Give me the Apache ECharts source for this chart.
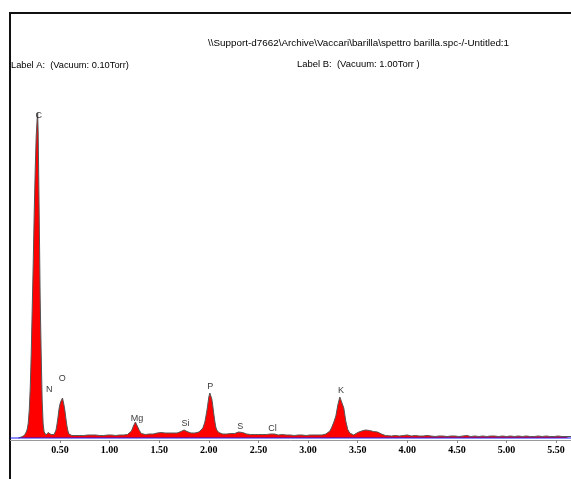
<!DOCTYPE html>
<html>
<head>
<meta charset="utf-8">
<script src="https://cdn.jsdelivr.net/npm/echarts@6/dist/echarts.min.js"></script>
<style>
  html, body { margin: 0; padding: 0; background: #fff; }
  #chart { width: 571px; height: 479px; }
</style>
</head>
<body>
<div id="chart"></div>
<script>
// EDS spectrum, Label A: [energy keV, counts]
const spectrumA = [
  [0.08,0],[0.09,0.5],[0.10,1],[0.11,1],[0.12,1.5],[0.13,2],[0.14,2.5],[0.15,4],[0.16,6],[0.17,9],
  [0.18,15],[0.19,28],[0.20,50],[0.21,85],[0.22,130],[0.23,175],[0.24,225],[0.25,268],[0.26,302],[0.27,320],
  [0.275,325],[0.28,305],[0.29,225],[0.30,140],[0.31,85],[0.32,38],[0.33,14],[0.34,6],[0.35,4],[0.36,3],
  [0.37,4],[0.38,5.5],[0.39,6],[0.40,5],[0.41,3.5],[0.42,3],[0.43,3],[0.44,3.5],[0.45,5],[0.46,8],
  [0.47,14],[0.48,21],[0.49,29],[0.50,34],[0.51,37],[0.52,39],[0.525,40],[0.53,38],[0.54,33],[0.55,27],
  [0.56,19],[0.57,12],[0.58,7],[0.59,4],[0.60,3],
  [0.62,2.5],[0.64,2],[0.66,2.5],[0.68,2],[0.70,2.5],[0.72,2],[0.74,2.5],[0.76,2.5],[0.78,3],[0.80,2.5],
  [0.82,3],[0.84,2.5],[0.86,3],[0.88,2.5],[0.90,2.5],[0.92,3],[0.94,2.5],[0.96,3],[0.98,3],[1.00,2.5],
  [1.02,3],[1.04,3],[1.06,2.5],[1.08,3],[1.10,3],[1.12,3],[1.14,3],[1.16,3.5],[1.18,3.5],[1.20,4.5],
  [1.22,7],[1.24,12],[1.26,16],[1.27,16],[1.28,14],[1.30,7.5],[1.32,4.5],[1.34,3.5],[1.36,3.5],[1.38,3.5],
  [1.40,4],[1.42,3.5],[1.44,4],[1.46,4.5],[1.48,5],[1.50,5.5],[1.52,5.5],[1.54,5],[1.56,5],[1.58,4.5],
  [1.60,5],[1.62,4.5],[1.64,5],[1.66,5],[1.68,5],[1.70,5.5],[1.72,6.5],[1.74,8],[1.75,8],[1.76,7.5],
  [1.78,6.5],[1.80,5.5],[1.82,5],[1.84,5],[1.86,5],[1.88,5.5],[1.90,6],[1.92,7],[1.94,10],[1.96,16],
  [1.98,27],[1.99,34],[2.00,41],[2.01,45],[2.02,44],[2.03,39],[2.04,32],[2.05,24],[2.06,17],[2.07,11],
  [2.08,8],[2.10,5.5],[2.12,4.5],[2.14,4],[2.16,4.5],[2.18,4],[2.20,4],[2.22,4.5],[2.24,4],[2.26,4.5],
  [2.28,5],[2.30,6],[2.32,6.5],[2.34,5.5],[2.36,4.5],[2.38,4],[2.40,4],[2.42,3.5],[2.44,4],[2.46,3.5],
  [2.48,3.5],[2.50,3.5],[2.52,3],[2.54,3.5],[2.56,3],[2.58,3.5],[2.60,3.5],[2.62,4],[2.64,4.5],[2.66,4],
  [2.68,3.5],[2.70,3],[2.72,3],[2.74,3.5],[2.76,3],[2.78,3],[2.80,3],[2.82,3],[2.84,3],[2.86,2.5],
  [2.88,3],[2.90,3],[2.92,2.5],[2.94,3],[2.96,3],[2.98,2.5],[3.00,3],[3.02,3],[3.04,2.5],[3.06,3],
  [3.08,3],[3.10,3],[3.12,3],[3.14,3],[3.16,3.5],[3.18,4],[3.20,5],[3.22,7],[3.24,11],[3.26,16],
  [3.28,22],[3.30,33],[3.32,41],[3.33,42],[3.34,40],[3.36,30],[3.38,17],[3.40,8.5],[3.42,5],[3.44,3.5],
  [3.46,3],[3.48,4],[3.50,5.5],[3.52,6.5],[3.54,7],[3.56,7.5],[3.58,8],[3.60,8],[3.62,7.5],[3.64,7],
  [3.66,6.5],[3.68,6.5],[3.70,6],[3.72,5],[3.74,4],[3.76,3],[3.78,2.5],
  [3.80,2.5],[3.84,2],[3.88,2.5],[3.92,2],[3.96,2.5],[4.00,3],[4.04,2],[4.08,2.5],[4.12,2],[4.16,2],
  [4.20,2.5],[4.24,2],[4.28,1.5],[4.32,2],[4.36,2],[4.40,1.5],[4.44,2],[4.48,2],[4.52,1.5],[4.56,2],
  [4.60,2.5],[4.64,1.5],[4.68,2],[4.72,1.5],[4.76,2],[4.80,1.5],[4.84,2],[4.88,2],[4.92,1.5],[4.96,2],
  [5.00,1.5],[5.04,2],[5.08,1.5],[5.12,2],[5.16,1.5],[5.20,2],[5.24,1.5],[5.28,1.5],[5.32,2],[5.36,1.5],
  [5.40,2],[5.44,1.5],[5.48,1.5],[5.52,2],[5.56,1.5],[5.60,1.5],[5.65,1.5]
];

// Zero baseline of the spectrum
const baseline = [[0, 0], [5.65, 0]];

// Peak identification markers
const peakElements   = ['C', 'N', 'O', 'Mg', 'Si', 'P', 'S', 'Cl', 'K'];
const peakLabelKeV   = [0.285, 0.391, 0.522, 1.276, 1.765, 2.015, 2.317, 2.642, 3.331];
const peakLabelLevel = [322, 48, 59, 19.5, 14, 51.5, 11.5, 9, 47.3];

// Energy axis ticks (keV)
const tickValues = [0.5, 1.0, 1.5, 2.0, 2.5, 3.0, 3.5, 4.0, 4.5, 5.0, 5.5];

const headerPath = '\\\\Support-d7662\\Archive\\Vaccari\\barilla\\spettro barilla.spc-/-Untitled:1';
const labelA = 'Label A:  (Vacuum: 0.10Torr)';
const labelB = 'Label B:  (Vacuum: 1.00Torr )';

const textFont = '9px "Liberation Sans", Arial, sans-serif';

const chart = echarts.init(document.getElementById('chart'), null, { renderer: 'canvas' });

chart.setOption({
  animation: false,
  backgroundColor: '#ffffff',
  grid: { left: 10.4, right: 0, top: 108, bottom: 39 },
  xAxis: {
    type: 'value',
    min: 0,
    max: 5.65,
    axisLine: { show: true, onZero: false, lineStyle: { color: '#9a9a9a', width: 1 } },
    axisTick: { show: true, customValues: tickValues, length: 3, lineStyle: { color: '#888' } },
    axisLabel: {
      customValues: tickValues,
      formatter: v => v.toFixed(2),
      fontFamily: '"Liberation Serif", "Times New Roman", serif',
      fontWeight: 'bold',
      fontSize: 10,
      color: '#000',
      margin: 5
    },
    splitLine: { show: false }
  },
  yAxis: { type: 'value', min: -2, max: 330, show: false },
  series: [
    {
      name: 'Label A',
      type: 'line',
      data: spectrumA,
      symbol: 'none',
      smooth: false,
      lineStyle: { color: '#555555', width: 1 },
      areaStyle: { color: '#ff0000', opacity: 1 },
      z: 2
    },
    {
      name: 'baseline',
      type: 'line',
      data: baseline,
      symbol: 'none',
      lineStyle: { color: '#1a1aff', width: 1 },
      z: 3
    },
    {
      name: 'peaks',
      type: 'scatter',
      data: peakElements.map((el, i) => ({ name: el, value: [peakLabelKeV[i], peakLabelLevel[i]] })),
      symbolSize: 1,
      itemStyle: { color: 'transparent' },
      label: {
        show: true,
        position: 'inside',
        formatter: p => p.name,
        fontFamily: '"Liberation Sans", Arial, sans-serif',
        fontSize: 9,
        color: '#000'
      },
      z: 4
    }
  ],
  graphic: [
    { type: 'line', shape: { x1: 9, y1: 13, x2: 571, y2: 13 }, style: { stroke: '#111', lineWidth: 2 } },
    { type: 'line', shape: { x1: 10, y1: 12, x2: 10, y2: 479 }, style: { stroke: '#111', lineWidth: 2 } },
    { type: 'text', x: 208, y: 43.5, scaleX: 1.095,
      style: { x: 0, y: 0, text: headerPath, font: textFont, fill: '#000', verticalAlign: 'middle' } },
    { type: 'text', x: 11, y: 65.5, scaleX: 1.03,
      style: { x: 0, y: 0, text: labelA, font: textFont, fill: '#000', verticalAlign: 'middle' } },
    { type: 'text', x: 297, y: 65, scaleX: 1.05,
      style: { x: 0, y: 0, text: labelB, font: textFont, fill: '#000', verticalAlign: 'middle' } }
  ]
});
</script>
</body>
</html>
